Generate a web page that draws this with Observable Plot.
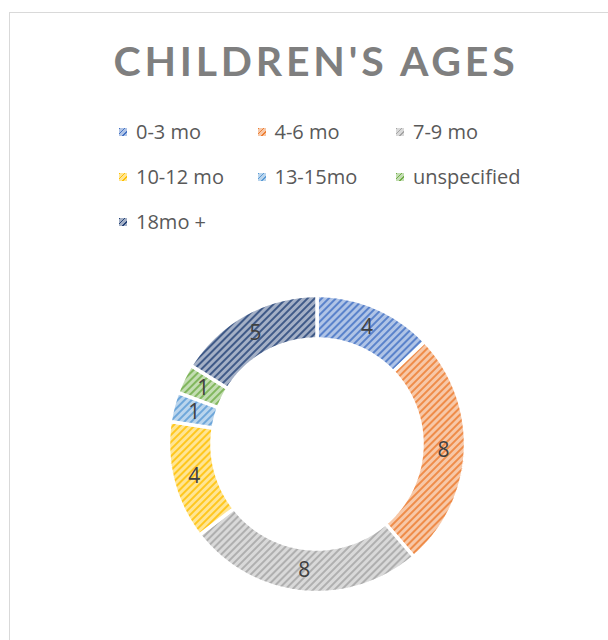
<!DOCTYPE html>
<html><head><meta charset="utf-8">
<script src="https://cdn.jsdelivr.net/npm/d3@7"></script>
<script src="https://cdn.jsdelivr.net/npm/@observablehq/plot@0.6"></script>
<style>
body{margin:0;background:#fff;}
#wrap{position:relative;width:608px;height:640px;overflow:hidden;font-family:"Open Sans",sans-serif;}
#frame{position:absolute;left:9px;top:12px;width:700px;height:700px;border:1px solid #d9d9d9;box-sizing:border-box;}
#head{position:relative;height:250px;}
#title{position:absolute;left:0;width:608px;top:33px;text-align:center;font-family:Lato,sans-serif;font-weight:bold;font-size:41px;line-height:56px;letter-spacing:3.8px;padding-left:24px;box-sizing:border-box;color:#7f7f7f;white-space:nowrap;}
.item{position:absolute;display:flex;align-items:center;height:26px;font-size:20px;line-height:26px;color:#595959;white-space:nowrap;}
.sw{width:8px;height:8px;margin-right:9px;flex:none;}
#chart svg{display:block;}
</style></head>
<body>
<div id="wrap">
<div id="frame"></div>
<div id="head">
<div id="title">CHILDREN'S AGES</div>
<div id="legend"></div>
</div>
<div id="chart"></div>
</div>
<script>
const title = "CHILDREN'S AGES";
const categories = ["0-3 mo","4-6 mo","7-9 mo","10-12 mo","13-15mo","unspecified","18mo +"];
const counts = [4,8,8,4,1,1,5];
const colors = ["#4472C4","#ED7D31","#A5A5A5","#FFC000","#5B9BD5","#70AD47","#264478"];

const table = categories.map((c,i)=>({category:c,count:counts[i],color:colors[i],i}));
const tint = c => d3.interpolateRgb(c,"#ffffff")(0.58);

// legend
const legend = document.getElementById("legend");
table.forEach((d,k)=>{
  const col = k%3, row = Math.floor(k/3);
  const it = document.createElement("div");
  it.className="item";
  it.style.left = (119 + col*138.5)+"px";
  it.style.top = (132 + row*45 - 13)+"px";
  const sw = document.createElement("span");
  sw.className="sw";
  sw.style.background = `repeating-linear-gradient(135deg, ${d.color} 0 1.3px, ${tint(d.color)} 1.3px 3.6px)`;
  it.appendChild(sw);
  it.appendChild(document.createTextNode(d.category));
  legend.appendChild(it);
});

// donut geometry (in units of the outer radius)
const W = 608, H = 390, cx = 316.5, cy = 193.5, Rpx = 148.5;
const r1 = 1, r0 = 105/148.5, rl = 126.75/148.5;
const arcs = d3.pie().sort(null).value(d=>d.count)(table);
const polys = arcs.map(a=>{
  const n = Math.max(8, Math.ceil((a.endAngle-a.startAngle)*60));
  const pts = [];
  for (let j=0;j<=n;j++){const t=a.startAngle+(a.endAngle-a.startAngle)*j/n; pts.push({x:r1*Math.sin(t),y:r1*Math.cos(t)});}
  for (let j=n;j>=0;j--){const t=a.startAngle+(a.endAngle-a.startAngle)*j/n; pts.push({x:r0*Math.sin(t),y:r0*Math.cos(t)});}
  pts.push(pts[0]);
  return {d:a.data, pts};
});
const labels = arcs.map(a=>{const t=(a.startAngle+a.endAngle)/2; return {x:rl*Math.sin(t), y:rl*Math.cos(t), label:String(a.data.count)};});

const svg = Plot.plot({
  width: W, height: H, margin: 0,
  x: {domain:[-cx/Rpx,(W-cx)/Rpx], range:[0,W], axis:null},
  y: {domain:[cy/Rpx,-(H-cy)/Rpx], range:[0,H], axis:null},
  style: {background:"transparent", overflow:"visible"},
  marks: [
    ...polys.map(p=>Plot.line(p.pts,{x:"x",y:"y",fill:`url(#hatch${p.d.i})`,stroke:"#ffffff",strokeWidth:3.5,strokeLinejoin:"miter"})),
    Plot.text(labels,{x:"x",y:"y",text:"label",fontSize:21,fill:"#404040",fontFamily:"Open Sans, sans-serif"})
  ]
});
const defs = d3.select(svg).insert("defs",":first-child");
table.forEach(d=>{
  const p = defs.append("pattern").attr("id",`hatch${d.i}`).attr("patternUnits","userSpaceOnUse")
    .attr("width",5).attr("height",5).attr("patternTransform","rotate(45)");
  p.append("rect").attr("width",5).attr("height",5).attr("fill",tint(d.color));
  p.append("line").attr("x1",1).attr("x2",1).attr("y1",0).attr("y2",5).attr("stroke",d.color).attr("stroke-width",1.6);
});
document.getElementById("chart").appendChild(svg);
</script>
</body></html>
